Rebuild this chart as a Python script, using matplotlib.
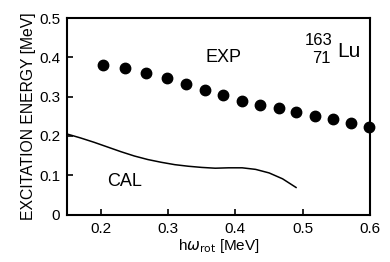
import matplotlib
matplotlib.use("Agg")
import matplotlib.pyplot as plt

plt.rcParams['font.family'] = ['Liberation Sans', 'DejaVu Sans']

exp_x = [0.203, 0.236, 0.267, 0.298, 0.327, 0.355, 0.382, 0.410, 0.437,
         0.464, 0.490, 0.518, 0.545, 0.571, 0.599]
exp_y = [0.380, 0.372, 0.359, 0.347, 0.333, 0.318, 0.304, 0.290, 0.280,
         0.270, 0.260, 0.251, 0.242, 0.233, 0.223]

cal_x = [0.15, 0.17, 0.19, 0.21, 0.23, 0.25, 0.27, 0.29, 0.31, 0.33,
         0.35, 0.37, 0.39, 0.41, 0.43, 0.45, 0.47, 0.49]
cal_y = [0.205, 0.195, 0.184, 0.172, 0.160, 0.149, 0.140, 0.133, 0.127, 0.123,
         0.120, 0.118, 0.119, 0.119, 0.115, 0.106, 0.091, 0.069]

x_ticks = [0.2, 0.3, 0.4, 0.5, 0.6]
x_tick_labels = ['0.2', '0.3', '0.4', '0.5', '0.6']
y_ticks = [0, 0.1, 0.2, 0.3, 0.4, 0.5]
y_tick_labels = ['0', '0.1', '0.2', '0.3', '0.4', '0.5']

fig = plt.figure(figsize=(3.9, 2.62), dpi=100)
ax = fig.add_axes([0.172, 0.181, 0.777, 0.750])

ax.plot(cal_x, cal_y, color='black', lw=1.1)
ax.plot(exp_x, exp_y, 'o', color='black', ms=7.5, clip_on=False)

ax.set_xlim(0.15, 0.6)
ax.set_ylim(0, 0.5)
ax.set_xticks(x_ticks)
ax.set_xticklabels(x_tick_labels)
ax.set_yticks(y_ticks)
ax.set_yticklabels(y_tick_labels)
ax.tick_params(direction='in', length=4, width=1.2, labelsize=11,
               top=False, right=False, pad=5, colors='black')
for s in ax.spines.values():
    s.set_linewidth(1.5)

ax.set_xlabel(r'h$\omega_{\mathrm{rot}}$ [MeV]', fontsize=11, labelpad=1)
ax.set_ylabel('EXCITATION ENERGY [MeV]', fontsize=11.3, labelpad=2)

ax.text(0.383, 0.40, 'EXP', fontsize=13, ha='center', va='center')
ax.text(0.235, 0.083, 'CAL', fontsize=13, ha='center', va='center')
ax.text(0.524, 0.444, '163', fontsize=12, ha='center', va='center')
ax.text(0.528, 0.398, '71', fontsize=12, ha='center', va='center')
ax.text(0.551, 0.414, 'Lu', fontsize=15, ha='left', va='center')

fig.savefig('out.png', dpi=100)
